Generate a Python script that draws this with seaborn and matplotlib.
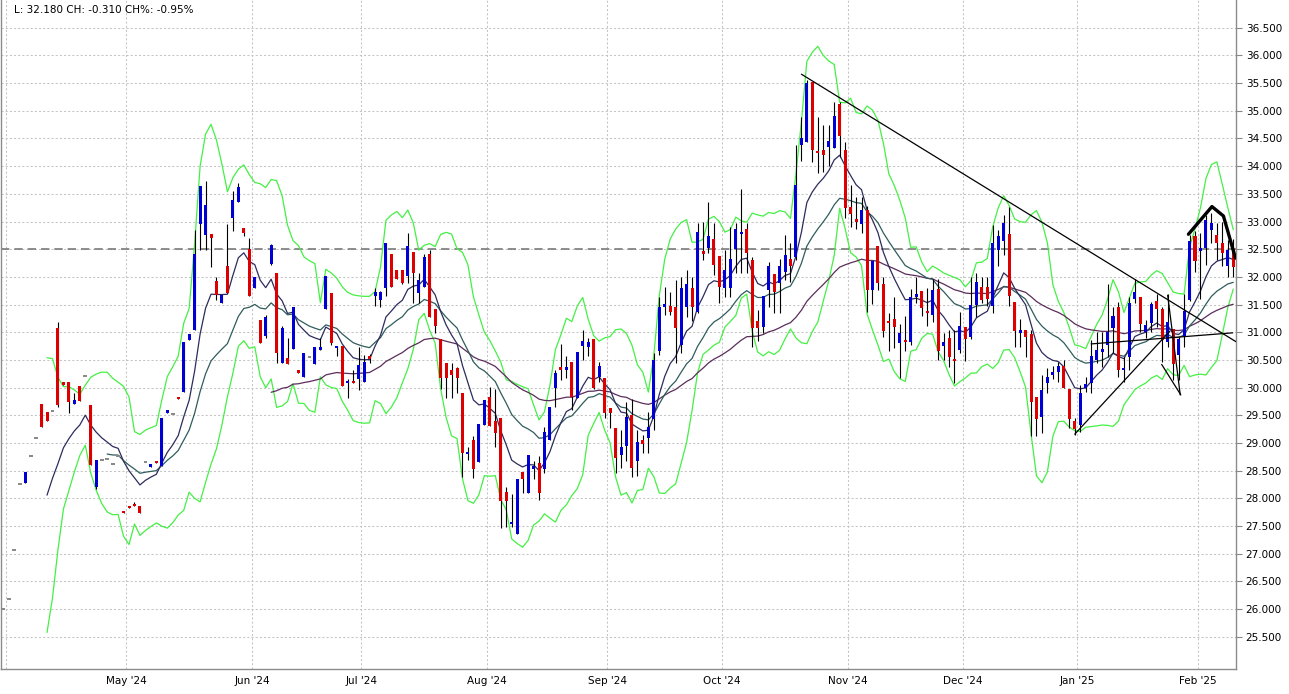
import numpy as np
import pandas as pd
import matplotlib
matplotlib.use("Agg")
import matplotlib.pyplot as plt
import seaborn as sns

# ---------------- data ----------------
dates = pd.bdate_range("2024-03-29", "2025-02-11").drop(
    [pd.Timestamp("2024-12-25"), pd.Timestamp("2025-01-01")])

opens = [26.00, 26.18, 27.07, 28.26, 28.28, 28.77, 29.09, 29.71, 29.56, 29.58,
         31.08, 30.10, 30.10, 29.70, 30.03, 30.21, 29.69, 28.21, 28.69, 28.71,
         28.62, 28.77, 27.77, 27.86, 27.90, 27.86, 28.66, 28.56, 28.68, 28.58,
         29.55, 29.52, 29.84, 29.92, 30.86, 31.04, 32.95, 32.75, 32.77, 31.92,
         31.52, 32.19, 33.06, 33.35, 32.88, 32.50, 31.80, 31.22, 30.93, 32.23,
         32.07, 30.44, 30.53, 30.70, 30.32, 30.19, 30.55, 30.43, 30.68, 31.42,
         31.71, 30.71, 30.75, 30.08, 30.12, 30.16, 30.11, 30.57, 31.66, 31.58,
         31.80, 32.41, 32.12, 32.12, 32.01, 32.45, 31.71, 31.82, 32.41, 31.42,
         30.88, 30.44, 30.31, 30.35, 29.90, 28.80, 29.05, 28.66, 29.32, 29.83,
         29.40, 29.45, 28.12, 27.54, 27.36, 28.48, 28.10, 28.53, 28.64, 28.53,
         29.05, 30.00, 30.37, 30.32, 30.46, 29.81, 30.75, 30.73, 30.88, 30.19,
         30.17, 29.63, 29.27, 28.78, 28.95, 29.51, 28.68, 29.05, 29.09, 29.43,
         30.66, 31.45, 31.47, 31.45, 30.77, 31.45, 31.80, 31.36, 32.46, 32.52,
         32.68, 32.37, 31.80, 31.80, 32.50, 32.77, 32.86, 32.30, 31.20, 31.09,
         31.76, 32.05, 31.89, 32.08, 32.32, 32.36, 34.38, 34.43, 35.52, 34.28,
         34.30, 34.34, 34.32, 35.12, 34.30, 33.26, 33.04, 32.95, 33.21, 31.76,
         32.56, 31.87, 31.20, 31.24, 30.81, 30.88, 30.83, 31.63, 31.74, 31.38,
         31.31, 31.78, 30.75, 30.90, 30.52, 30.68, 31.09, 30.92, 31.49, 31.82,
         31.82, 31.47, 32.48, 32.65, 32.77, 31.54, 30.99, 31.04, 30.97, 29.83,
         29.47, 30.08, 30.23, 30.28, 30.39, 29.97, 29.39, 29.33, 29.99, 30.09,
         30.50, 30.65, 30.77, 31.07, 31.46, 30.31, 30.56, 31.61, 31.63, 31.01,
         31.16, 31.57, 31.42, 30.82, 31.06, 30.59, 30.94, 31.58, 32.74, 32.46,
         32.53, 32.85, 32.76, 32.61, 32.19, 32.50]

highs = [26.00, 26.18, 27.07, 28.26, 28.48, 28.77, 29.09, 29.71, 29.56, 29.58,
         31.18, 30.10, 30.10, 29.90, 30.03, 30.21, 29.69, 28.69, 28.69, 28.71,
         28.62, 28.77, 27.77, 27.86, 27.93, 27.86, 28.66, 28.62, 28.68, 29.45,
         29.60, 29.52, 29.84, 30.82, 30.97, 32.84, 33.64, 33.73, 32.77, 32.00,
         31.67, 32.95, 33.55, 33.69, 32.88, 32.70, 32.00, 31.22, 31.31, 32.59,
         32.07, 31.12, 30.90, 31.45, 30.32, 30.62, 30.55, 30.73, 30.90, 32.01,
         31.71, 30.75, 30.75, 30.16, 30.32, 30.73, 30.59, 30.60, 31.80, 31.75,
         32.61, 32.41, 32.12, 32.12, 32.79, 32.45, 32.07, 32.41, 32.48, 31.42,
         30.88, 30.44, 30.44, 30.37, 29.90, 28.93, 29.13, 29.34, 29.77, 30.01,
         29.97, 29.45, 28.21, 28.08, 28.35, 28.48, 28.78, 28.67, 28.77, 29.29,
         29.65, 30.32, 30.79, 30.57, 30.46, 30.64, 31.04, 30.90, 30.88, 30.46,
         30.17, 29.63, 29.27, 29.23, 29.75, 29.79, 29.23, 29.14, 29.56, 30.62,
         31.64, 31.82, 31.72, 31.94, 32.00, 32.12, 32.00, 32.97, 32.99, 33.35,
         32.97, 32.37, 32.48, 32.90, 32.97, 33.58, 32.97, 32.36, 31.40, 31.65,
         32.27, 32.05, 32.32, 32.75, 32.61, 34.38, 34.88, 35.55, 35.52, 34.88,
         34.74, 34.74, 35.16, 35.16, 34.43, 33.66, 33.44, 33.44, 33.28, 32.29,
         32.56, 32.00, 31.35, 31.63, 31.15, 31.29, 31.78, 32.00, 31.74, 31.80,
         31.96, 31.96, 30.99, 31.04, 31.04, 31.36, 31.09, 32.00, 32.07, 32.00,
         32.00, 32.94, 32.85, 33.12, 33.26, 31.54, 31.24, 31.04, 31.04, 29.83,
         30.23, 30.35, 30.40, 30.46, 30.50, 29.97, 29.45, 30.05, 30.20, 30.86,
         31.01, 31.01, 31.88, 31.46, 31.55, 30.56, 31.64, 31.97, 31.64, 31.22,
         31.55, 31.70, 31.46, 31.69, 31.06, 30.92, 31.70, 32.76, 32.82, 32.79,
         33.12, 33.15, 32.97, 33.00, 32.67, 32.68]

lows = [26.00, 26.18, 27.07, 28.26, 28.28, 28.77, 29.09, 29.29, 29.40, 29.58,
        29.65, 30.05, 29.54, 29.70, 29.76, 30.21, 28.60, 28.17, 28.69, 28.71,
        28.62, 28.77, 27.73, 27.82, 27.86, 27.73, 28.66, 28.56, 28.64, 28.58,
        29.55, 29.52, 29.80, 29.92, 30.86, 31.04, 32.48, 32.48, 32.18, 31.58,
        31.52, 31.71, 32.83, 33.35, 32.74, 31.65, 31.80, 30.81, 30.89, 32.21,
        30.44, 30.44, 30.43, 30.70, 30.26, 30.19, 30.55, 30.43, 30.68, 31.42,
        30.77, 30.57, 30.03, 29.81, 30.08, 29.96, 30.11, 30.45, 31.47, 31.45,
        31.65, 31.82, 31.96, 31.87, 31.89, 31.53, 31.53, 31.82, 31.27, 30.99,
        29.97, 29.81, 29.81, 29.90, 28.39, 28.69, 28.37, 28.66, 29.32, 29.31,
        28.93, 27.47, 27.49, 27.49, 27.36, 28.10, 28.10, 28.35, 27.98, 28.46,
        29.05, 29.65, 30.14, 30.17, 29.60, 29.81, 30.50, 30.57, 29.97, 30.10,
        29.45, 29.28, 28.46, 28.55, 28.68, 28.39, 28.41, 28.82, 28.82, 29.23,
        30.59, 31.31, 31.31, 30.44, 30.62, 31.27, 31.20, 31.34, 32.30, 32.43,
        32.03, 31.53, 31.64, 31.64, 32.07, 32.07, 32.07, 30.73, 30.85, 30.98,
        31.45, 31.35, 31.35, 31.94, 31.91, 32.30, 34.10, 34.43, 34.07, 33.87,
        33.89, 34.00, 34.32, 34.16, 33.07, 32.90, 32.86, 32.79, 31.36, 31.51,
        31.76, 30.92, 30.66, 30.71, 30.17, 30.66, 30.77, 31.53, 31.29, 31.11,
        31.18, 30.50, 30.50, 30.37, 30.08, 30.62, 30.48, 30.88, 31.27, 31.53,
        31.47, 31.35, 32.20, 32.39, 31.47, 30.73, 30.73, 30.55, 29.13, 29.13,
        29.18, 29.90, 30.15, 30.10, 29.99, 29.27, 29.15, 29.20, 29.92, 29.90,
        30.44, 30.38, 30.56, 30.62, 30.20, 30.11, 30.32, 31.52, 31.01, 30.89,
        31.01, 31.10, 30.46, 30.74, 30.14, 30.14, 30.74, 31.57, 32.09, 31.61,
        32.22, 32.62, 32.31, 32.19, 32.00, 32.00]

closes = [26.00, 26.18, 27.07, 28.26, 28.48, 28.77, 29.09, 29.29, 29.40, 29.58,
          29.69, 30.05, 29.74, 29.78, 29.76, 30.21, 28.60, 28.69, 28.69, 28.71,
          28.62, 28.77, 27.73, 27.82, 27.86, 27.73, 28.66, 28.62, 28.64, 29.45,
          29.60, 29.52, 29.80, 30.82, 30.97, 32.41, 33.64, 33.30, 32.70, 31.67,
          31.67, 31.71, 33.39, 33.62, 32.79, 31.65, 32.00, 30.81, 31.27, 32.57,
          30.62, 31.08, 30.43, 31.45, 30.26, 30.62, 30.55, 30.73, 30.73, 32.01,
          30.81, 30.75, 30.03, 30.12, 30.08, 30.41, 30.46, 30.52, 31.72, 31.72,
          32.61, 31.82, 31.96, 31.89, 32.56, 32.07, 31.94, 32.36, 31.27, 31.11,
          30.17, 30.17, 30.22, 30.17, 28.82, 28.84, 28.53, 29.34, 29.77, 29.31,
          29.18, 27.96, 27.96, 27.58, 28.35, 28.35, 28.78, 28.58, 28.10, 29.20,
          29.65, 30.27, 30.32, 30.37, 29.84, 30.64, 30.84, 30.82, 29.99, 30.39,
          29.55, 29.55, 28.73, 28.93, 29.47, 28.55, 29.02, 28.98, 29.29, 30.50,
          31.45, 31.51, 31.36, 31.07, 31.80, 31.87, 31.45, 32.81, 32.41, 32.74,
          32.21, 31.82, 32.12, 32.32, 32.86, 32.81, 32.43, 31.07, 31.07, 31.65,
          32.19, 31.73, 32.19, 32.39, 32.19, 33.66, 34.51, 35.50, 34.30, 34.23,
          34.21, 34.45, 34.90, 34.54, 33.24, 33.13, 33.00, 33.21, 31.76, 32.29,
          31.89, 31.02, 31.16, 31.09, 30.99, 30.85, 31.63, 31.69, 31.44, 31.36,
          31.76, 30.66, 30.82, 30.55, 30.50, 31.11, 30.88, 31.49, 31.91, 31.58,
          31.60, 32.61, 32.74, 32.97, 31.65, 31.02, 31.04, 30.92, 29.74, 29.43,
          29.96, 30.19, 30.28, 30.39, 29.99, 29.43, 29.25, 29.90, 30.06, 30.57,
          30.68, 30.69, 31.01, 31.30, 30.32, 30.36, 31.52, 31.73, 31.15, 31.13,
          31.51, 31.42, 30.86, 31.18, 30.42, 30.88, 31.39, 32.65, 32.28, 32.53,
          33.03, 32.98, 32.62, 32.44, 32.49, 32.18]

y_ticks = [25.5, 26.0, 26.5, 27.0, 27.5, 28.0, 28.5, 29.0, 29.5, 30.0, 30.5,
           31.0, 31.5, 32.0, 32.5, 33.0, 33.5, 34.0, 34.5, 35.0, 35.5, 36.0, 36.5]
ref_level = 32.5

# drawn trend lines (bar index, price)
tl_long_x, tl_long_y = [146.0, 225.5], [35.66, 30.83]
tl_rise_x, tl_rise_y = [196.0, 213.4], [29.16, 31.02]
tl_flat_x, tl_flat_y = [199.0, 224.9], [30.79, 30.99]
tl_v1_x, tl_v1_y = [213.0, 215.3], [31.67, 29.87]
tl_v2_x, tl_v2_y = [211.9, 215.4], [30.42, 29.87]
tl_head_x, tl_head_y = [216.8, 221.1, 223.2, 225.4], [32.77, 33.27, 33.10, 32.34]

n = min(len(dates), len(opens), len(highs), len(lows), len(closes))
df = pd.DataFrame({"date": dates[:n], "open": opens[:n], "high": highs[:n],
                   "low": lows[:n], "close": closes[:n]})
df["i"] = np.arange(n)


def ema(values, period):
    v = np.asarray(values, dtype=float)
    out = np.full(len(v), np.nan)
    if len(v) < period:
        return out
    out[period - 1] = v[:period].mean()
    a = 2.0 / (period + 1)
    for k in range(period, len(v)):
        out[k] = out[k - 1] + a * (v[k] - out[k - 1])
    return out


df["ema9"] = ema(df["close"], 9)
sd9 = df["close"].rolling(9).std(ddof=0)
df["bb_up"] = df["ema9"] + 2 * sd9
df["bb_lo"] = df["ema9"] - 2 * sd9
df["ema20"] = ema(df["close"], 20)
df["ema50"] = ema(df["close"], 50)

# ---------------- figure ----------------
sns.set_theme(style="white")
plt.rcParams["font.family"] = ["DejaVu Sans"]

W, H = 1289, 694
fig = plt.figure(figsize=(W / 100, H / 100), dpi=100)
ax = fig.add_axes([1 / W, (H - 669) / H, (1236 - 1) / W, 669 / H])

xmin, xmax = -0.42, 225.5
ymin, ymax = 24.92, 37.0
ax.set_xlim(xmin, xmax)
ax.set_ylim(ymin, ymax)

grid_kw = dict(color="#c4c4c4", linewidth=0.75, linestyle=(0, (2, 2)), zorder=0)
for yv in y_ticks:
    ax.axhline(yv, **grid_kw)

# month gridlines & labels
month_pos, month_lab = [], []
prev = df["date"].iloc[0]
for k in range(1, n):
    d = df["date"].iloc[k]
    if d.month != prev.month:
        pos = k - 0.5
        ax.axvline(pos, **grid_kw)
        if pos > 5:
            month_pos.append(pos)
            month_lab.append(f"{d:%b} '{d:%y}")
    prev = d

ax.axhline(ref_level, color="#7a7a7a", linewidth=1.2, linestyle=(0, (5, 3)), zorder=1)

# indicators
line_specs = [("bb_up", "#44f044", 0.9), ("bb_lo", "#44f044", 0.9),
              ("ema50", "#5a2d5a", 0.9), ("ema20", "#2f5c5c", 0.9),
              ("ema9", "#2c2c5e", 0.9)]
for col, c, lw in line_specs:
    sub = df.dropna(subset=[col])
    sns.lineplot(data=sub, x="i", y=col, ax=ax, color=c, linewidth=lw,
                 zorder=2, legend=False, estimator=None)

# candles
up = df["close"] > df["open"]
dn = df["close"] < df["open"]
flat = ~(up | dn)
ax.vlines(df["i"], df["low"], df["high"], color="black", linewidth=0.8, zorder=3)
body_w = 0.55
min_h = 0.035
for mask, col, w in [(up, "#0000d4", body_w), (dn, "#dc0000", body_w),
                     (flat, "#8a8a8a", 0.7)]:
    s = df[mask]
    bot = np.minimum(s["open"], s["close"])
    hgt = np.maximum(np.abs(s["close"] - s["open"]), min_h)
    bot = np.where(np.abs(s["close"] - s["open"]) < min_h, bot - min_h / 2, bot)
    ax.bar(s["i"], hgt, bottom=bot, width=w, color=col, linewidth=0, zorder=4)

# trend lines
for xs, ys, lw in [(tl_long_x, tl_long_y, 0.9), (tl_rise_x, tl_rise_y, 0.9),
                   (tl_flat_x, tl_flat_y, 0.9), (tl_v1_x, tl_v1_y, 0.9),
                   (tl_v2_x, tl_v2_y, 0.9), (tl_head_x, tl_head_y, 2.4)]:
    ax.plot(xs, ys, color="black", linewidth=lw, zorder=5,
            solid_capstyle="round", solid_joinstyle="round")

# axes styling
ax.yaxis.tick_right()
ax.set_yticks(y_ticks)
ax.set_yticklabels([f"{v:.3f}" for v in y_ticks])
ax.set_xticks(month_pos)
ax.set_xticklabels(month_lab)
ax.tick_params(axis="y", which="major", length=4, width=0.8, color="#888888",
               labelsize=7.5, labelcolor="black", pad=3, right=True, left=False)
ax.tick_params(axis="x", which="major", length=0, labelsize=7.5,
               labelcolor="black", pad=5)
ax.set_xlabel("")
ax.set_ylabel("")
for side in ["left", "bottom", "right"]:
    ax.spines[side].set_visible(True)
    ax.spines[side].set_color("#8c8c8c")
    ax.spines[side].set_linewidth(1.0)
ax.spines["top"].set_visible(False)

last = df["close"].iloc[-1]
prevc = df["close"].iloc[-2]
ch = last - prevc
fig.text(14 / W, 1 - 10 / H,
         f"L: {last:.3f} CH: {ch:.3f} CH%: {ch / prevc * 100:.2f}%",
         fontsize=7.5, va="center", ha="left", color="black")

fig.savefig("out.png", dpi=100)
